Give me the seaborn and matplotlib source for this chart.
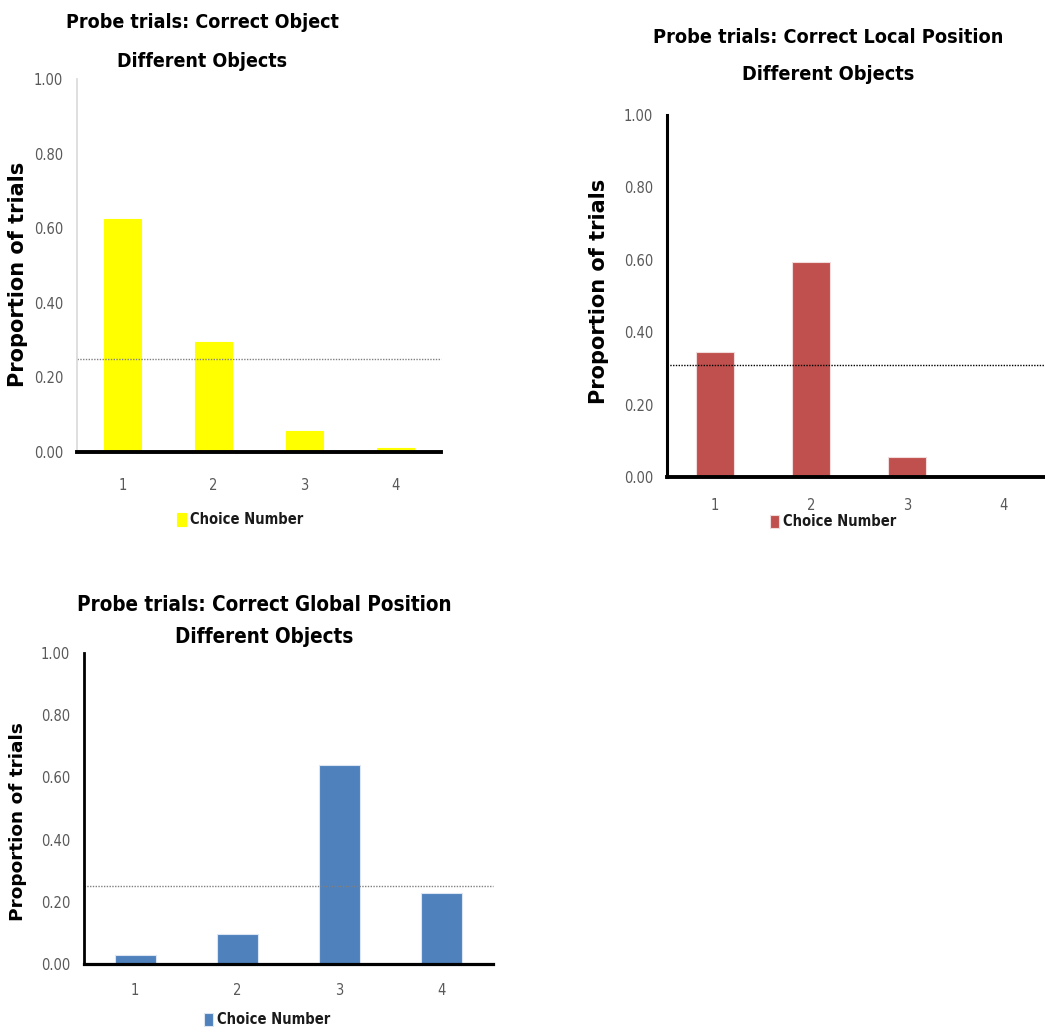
import numpy as np
import pandas as pd
import matplotlib
matplotlib.use("Agg")
import matplotlib.pyplot as plt
import seaborn as sns

# datos
choices = ["1", "2", "3", "4"]
object_vals = [0.625, 0.295, 0.055, 0.012]
local_vals = [0.345, 0.595, 0.055, 0.0]
global_vals = [0.03, 0.097, 0.64, 0.228]
chance_object = 0.25
chance_local = 0.31
chance_global = 0.25

titles = ["Probe trials: Correct Object\nDifferent Objects",
          "Probe trials: Correct Local Position\nDifferent Objects",
          "Probe trials: Correct Global Position\nDifferent Objects"]

sns.set_style("white")
narrow = ["DejaVu Sans"]
stretch = "condensed"

W, H = 1045, 1034
fig = plt.figure(figsize=(W / 100, H / 100), dpi=100)


def px_axes(x0, y_top, x1, y_bot):
    return fig.add_axes([x0 / W, 1 - y_bot / H, (x1 - x0) / W, (y_bot - y_top) / H])


def panel(ax, vals, color, chance, line_col, left_col, left_lw, bottom_lw, edge):
    df = pd.DataFrame({"choice": choices, "prop": vals})
    sns.barplot(data=df, x="choice", y="prop", color=color, width=0.4,
                saturation=1, ax=ax, label="Choice Number",
                edgecolor=edge, linewidth=0.8)
    ax.axhline(chance, color=line_col, linestyle=(0, (1, 1)), linewidth=1, clip_on=False)
    ax.set_ylim(0, 1)
    ax.set_yticks(np.arange(0, 1.01, 0.2))
    ax.set_yticklabels([f"{v:.2f}" for v in np.arange(0, 1.01, 0.2)])
    ax.set_xlabel("")
    ax.set_ylabel("")
    for s in ["top", "right"]:
        ax.spines[s].set_visible(False)
    ax.spines["left"].set_color(left_col)
    ax.spines["left"].set_linewidth(left_lw)
    ax.spines["bottom"].set_color("black")
    ax.spines["bottom"].set_linewidth(bottom_lw)
    ax.tick_params(axis="both", length=0, colors="#595959", labelsize=10.5)
    ax.tick_params(axis="y", pad=10)
    for t in ax.get_xticklabels() + ax.get_yticklabels():
        t.set_family(narrow)
        t.set_stretch(stretch)
    ax.set_facecolor("none")


# panel 1 - objeto
ax1 = px_axes(77, 79, 441, 452)
panel(ax1, object_vals, "#FFFF00", chance_object, "#808080", "#D9D9D9", 1.2, 2.8, "#FFFF00")
ax1.tick_params(axis="x", pad=19)

# panel 2 - posicion local
ax2 = px_axes(667, 115, 1051, 477)
panel(ax2, local_vals, "#C0504D", chance_local, "black", "black", 2.2, 2.8, "#F2DCDB")
ax2.tick_params(axis="x", pad=15)

# panel 3 - posicion global
ax3 = px_axes(84, 653, 493, 964)
panel(ax3, global_vals, "#4F81BD", chance_global, "#808080", "black", 2.0, 2.3, "#DCE6F2")
ax3.tick_params(axis="x", pad=14)

# titulos (x, y, tamaño, interlineado)
title_pos = [(202, 42, 14, 2.3), (828, 56, 14.2, 2.15), (264, 621, 14.8, 1.8)]
for (xc, yc, fs, ls), txt in zip(title_pos, titles):
    fig.text(xc / W, 1 - yc / H, txt, ha="center", va="center", fontsize=fs,
             fontweight="bold", family=narrow, fontstretch=stretch,
             linespacing=ls, color="black")

# etiquetas eje y
for xc, yc, fs in [(18, 274, 15), (599, 291, 15), (18, 822, 13.3)]:
    fig.text(xc / W, 1 - yc / H, "Proportion of trials", rotation=90, ha="center",
             va="center", fontsize=fs, fontweight="bold", family=["DejaVu Sans"],
             color="black")

# leyendas
for ax, (xc, yc) in zip([ax1, ax2, ax3], [(240, 520), (833, 522), (267, 1020)]):
    leg = ax.legend(loc="center", bbox_to_anchor=(xc / W, 1 - yc / H),
                    bbox_transform=fig.transFigure, frameon=False,
                    handlelength=0.6, handleheight=0.9, handletextpad=0.3,
                    prop={"family": narrow, "size": 10.5, "weight": "bold",
                          "stretch": stretch})
    for t in leg.get_texts():
        t.set_color("#1a1a1a")

fig.savefig("out.png", dpi=100)
